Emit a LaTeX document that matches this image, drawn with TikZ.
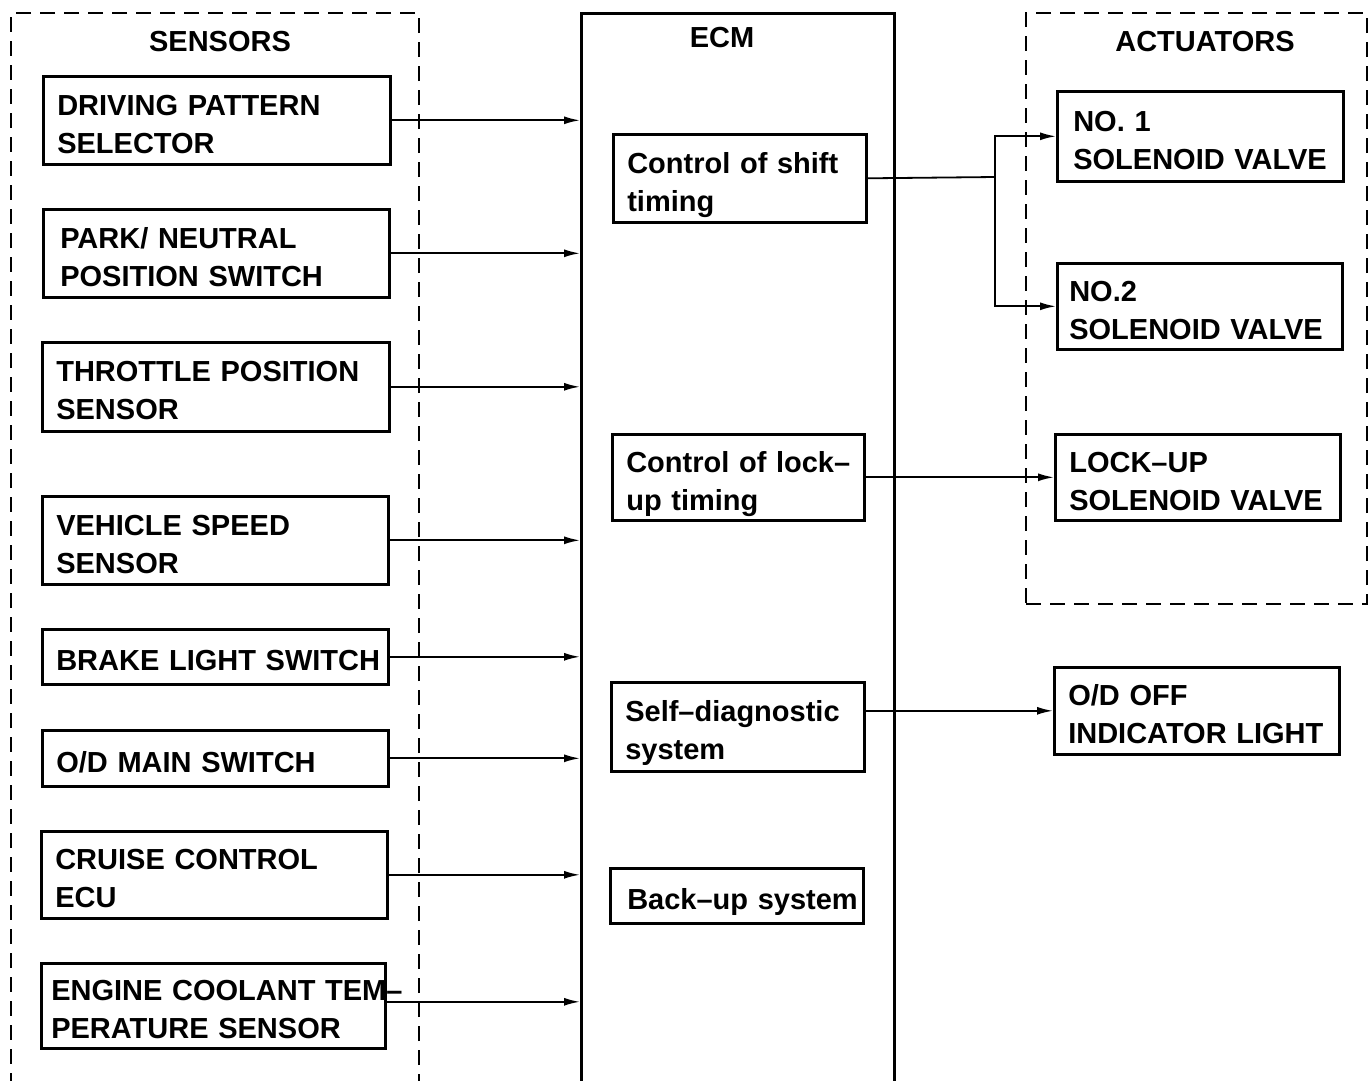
\documentclass[tikz,border=0pt]{standalone}
\usepackage{fontspec}
\setmainfont{Liberation Sans}
\usetikzlibrary{arrows.meta}
\hyphenpenalty=10000

\begin{document}
\begin{tikzpicture}[x=1pt, y=-1pt,
    >={Latex[length=16pt, width=8pt]},
    blk/.style={draw, rectangle, line width=2.6pt, anchor=north west, align=left,
      inner xsep=14pt, font=\bfseries\fontsize{29}{38}\selectfont,
      execute at begin node={\rule{0pt}{34pt}},
      execute at end node={\rule[-6pt]{0pt}{6pt}}},
    grp/.style={draw, rectangle, line width=2.2pt, dash pattern=on 15pt off 9pt, anchor=north west},
    ttl/.style={font=\bfseries\fontsize{29}{38}\selectfont},
    wire/.style={line width=1.8pt}]
  \useasboundingbox (0,0) rectangle (1369,1080);
  \fill[white] (0,0) rectangle (1369,1080);
  \clip (0,0) rectangle (1369,1080);

  % Frames: dashed groups and the ECM
  \node[grp, minimum width=408pt, minimum height=1100pt] (SEN) at (10,12) {};
  \node[grp, minimum width=341pt, minimum height=591pt] (ACT) at (1025,12) {};
  \node[draw, rectangle, line width=2.8pt, anchor=north west, minimum width=313pt, minimum height=1100pt] (ECM) at (580,12) {};

  % Headings
  \node[ttl] (senT) at (220,42) {SENSORS};
  \node[ttl] (ecmT) at (722,38) {ECM};
  \node[ttl] (actT) at (1205,42) {ACTUATORS};

  % Sensor boxes
  \node[blk, minimum width=347pt, minimum height=88pt, text width=319pt] (DPS) at (42,75) {DRIVING PATTERN\\SELECTOR};
  \node[blk, minimum width=346pt, minimum height=88pt, inner xsep=17pt, text width=312pt] (PNP) at (42,208) {PARK/ NEUTRAL\\POSITION SWITCH};
  \node[blk, minimum width=347pt, minimum height=89pt, text width=319pt] (TPS) at (41,341) {THROTTLE POSITION\\SENSOR};
  \node[blk, minimum width=346pt, minimum height=88pt, text width=318pt] (VSS) at (41,495) {VEHICLE SPEED\\SENSOR};
  \node[blk, minimum width=346pt, minimum height=55pt, text width=318pt] (BLS) at (41,628) {\mbox{BRAKE LIGHT SWITCH}};
  \node[blk, minimum width=346pt, minimum height=56pt, text width=318pt] (ODM) at (41,729) {O/D MAIN SWITCH};
  \node[blk, minimum width=346pt, minimum height=87pt, text width=318pt] (CCE) at (40,830) {CRUISE CONTROL\\ECU};
  \node[blk, minimum width=344pt, minimum height=85pt, inner xsep=10pt, text width=324pt] (ECT) at (40,962) {\mbox{ENGINE COOLANT TEM–}\\PERATURE SENSOR};

  % ECM functions
  \node[blk, minimum width=253pt, minimum height=88pt, text width=225pt] (SFT) at (612,133) {Control of shift\\timing};
  \node[blk, minimum width=252pt, minimum height=86pt, text width=224pt] (LUT) at (611,433) {\mbox{Control of lock–}\\up timing};
  \node[blk, minimum width=253pt, minimum height=89pt, text width=225pt] (SDS) at (610,681) {Self–diagnostic\\system};
  \node[blk, minimum width=253pt, minimum height=55pt, inner xsep=17pt, text width=219pt] (BUS) at (609,867) {\mbox{Back–up system}};

  % Actuators
  \node[blk, minimum width=286pt, minimum height=90pt, inner xsep=16pt, text width=254pt] (SV1) at (1056,90) {NO. 1\\\mbox{SOLENOID VALVE}};
  \node[blk, minimum width=285pt, minimum height=86pt, inner xsep=12pt, text width=261pt] (SV2) at (1056,262) {NO.2\\\mbox{SOLENOID VALVE}};
  \node[blk, minimum width=285pt, minimum height=86pt, text width=257pt] (LUV) at (1054,433) {LOCK–UP\\\mbox{SOLENOID VALVE}};
  \node[blk, minimum width=285pt, minimum height=87pt, text width=257pt] (ODL) at (1053,666) {O/D OFF\\\mbox{INDICATOR LIGHT}};

  % Inputs to the ECM
  \draw[wire, ->] (DPS.east) -- (DPS.east -| ECM.west);
  \draw[wire, ->] (PNP.east) -- (PNP.east -| ECM.west);
  \draw[wire, ->] (TPS.east) -- (TPS.east -| ECM.west);
  \draw[wire, ->] (VSS.east) -- (VSS.east -| ECM.west);
  \draw[wire, ->] (BLS.east) -- (BLS.east -| ECM.west);
  \draw[wire, ->] (ODM.east) -- (ODM.east -| ECM.west);
  \draw[wire, ->] (CCE.east) -- (CCE.east -| ECM.west);
  \draw[wire, ->] ([yshift=4pt]ECT.east) -- ([yshift=4pt]ECT.east -| ECM.west);

  % Outputs from the ECM
  \coordinate (split) at (995,177);
  \draw[wire] (SFT.east) -- (split);
  \draw[wire, ->] (split) |- (SV1.west);
  \draw[wire, ->] (split) |- (SV2.west);
  \draw[wire, ->] (LUT.east) -- (LUV.west);
  \draw[wire, ->] (SDS.east |- ODL.west) -- (ODL.west);
\end{tikzpicture}
\end{document}
